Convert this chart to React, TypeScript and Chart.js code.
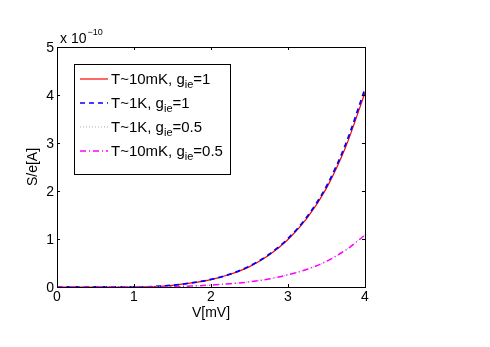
import { useEffect, useRef } from 'react';
import { Chart, registerables } from 'chart.js';
Chart.register(...registerables);

const V = [0, 0.25, 0.5, 0.75, 1, 1.25, 1.5, 1.75, 2, 2.25, 2.5, 2.75, 3, 3.25, 3.5, 3.75, 4];
const S_10mK_g1 = [0, 0, 0, 0, 0, 0.008, 0.035, 0.085, 0.155, 0.265, 0.425, 0.66, 0.99, 1.44, 2.06, 2.92, 4.05];
const S_1K_g1 = [0, 0, 0, 0, 0, 0.009, 0.037, 0.088, 0.158, 0.27, 0.435, 0.675, 1.01, 1.47, 2.1, 2.98, 4.13];
const S_1K_g05 = [0, 0, 0, 0, 0, 0.002, 0.008, 0.021, 0.041, 0.069, 0.108, 0.168, 0.257, 0.372, 0.538, 0.775, 1.09];
const S_10mK_g05 = [0, 0, 0, 0, 0, 0.002, 0.007, 0.02, 0.04, 0.068, 0.107, 0.167, 0.255, 0.37, 0.535, 0.77, 1.08];
const X_TICKS = [0, 1, 2, 3, 4];
const Y_TICKS = [0, 1, 2, 3, 4, 5];
const X_TITLE = 'V[mV]';
const Y_TITLE = 'S/e[A]';
const LEGEND = [
  { pre: 'T~10mK, g', sub: 'ie', post: '=1', color: '#ff0000', dash: [] as number[], width: 1.2 },
  { pre: 'T~1K, g', sub: 'ie', post: '=1', color: '#0000ff', dash: [5, 4], width: 1.6 },
  { pre: 'T~1K, g', sub: 'ie', post: '=0.5', color: '#b0b0b0', dash: [1, 2], width: 1 },
  { pre: 'T~10mK, g', sub: 'ie', post: '=0.5', color: '#ff00ff', dash: [6, 3, 1, 3], width: 1.5 },
];
const SERIES = [S_10mK_g1, S_1K_g1, S_1K_g05, S_10mK_g05];

const FONT = '"Liberation Sans", Arial, Helvetica, sans-serif';

const overlay = {
  id: 'matlabOverlay',
  afterDraw(chart: any) {
    const ctx = chart.ctx as CanvasRenderingContext2D;
    const a = chart.chartArea;
    const xs = chart.scales.x;
    const ys = chart.scales.y;
    ctx.save();
    // box
    ctx.strokeStyle = '#000';
    ctx.lineWidth = 1;
    ctx.setLineDash([]);
    ctx.strokeRect(Math.round(a.left) + 0.5, Math.round(a.top) + 0.5, Math.round(a.right - a.left), Math.round(a.bottom - a.top));
    // inward ticks
    ctx.beginPath();
    for (const t of X_TICKS) {
      const x = Math.round(xs.getPixelForValue(t)) + 0.5;
      ctx.moveTo(x, a.bottom);
      ctx.lineTo(x, a.bottom - 3);
      ctx.moveTo(x, a.top);
      ctx.lineTo(x, a.top + 3);
    }
    for (const t of Y_TICKS) {
      const y = Math.round(ys.getPixelForValue(t)) + 0.5;
      ctx.moveTo(a.left, y);
      ctx.lineTo(a.left + 3, y);
      ctx.moveTo(a.right, y);
      ctx.lineTo(a.right - 3, y);
    }
    ctx.stroke();

    ctx.fillStyle = '#000';
    ctx.font = `14px ${FONT}`;
    // tick labels
    ctx.textAlign = 'center';
    ctx.textBaseline = 'middle';
    for (const t of X_TICKS) {
      ctx.fillText(String(t), xs.getPixelForValue(t), a.bottom + 10);
    }
    ctx.textAlign = 'right';
    for (const t of Y_TICKS) {
      ctx.fillText(String(t), a.left - 3, ys.getPixelForValue(t) + 1);
    }
    // x title
    ctx.textAlign = 'center';
    ctx.fillText(X_TITLE, (a.left + a.right) / 2, 313);
    // y title
    ctx.save();
    ctx.translate(33, 167);
    ctx.rotate(-Math.PI / 2);
    ctx.fillText(Y_TITLE, 0, 0);
    ctx.restore();
    // exponent
    ctx.textAlign = 'left';
    ctx.textBaseline = 'alphabetic';
    ctx.font = `14px ${FONT}`;
    ctx.fillText('x 10', 60, 43);
    const w10 = ctx.measureText('x 10').width;
    ctx.font = `9px ${FONT}`;
    ctx.fillText('\u221210', 60 + w10 + 1, 35);

    // legend
    const lx = 74.5, ly = 64.5, lw = 156, lh = 110;
    ctx.fillStyle = '#fff';
    ctx.fillRect(lx, ly, lw, lh);
    ctx.strokeStyle = '#000';
    ctx.lineWidth = 1;
    ctx.strokeRect(lx, ly, lw, lh);
    const rows = [79, 103, 127, 151];
    LEGEND.forEach((item, i) => {
      const y = rows[i];
      ctx.strokeStyle = item.color;
      ctx.lineWidth = item.width;
      ctx.setLineDash(item.dash);
      ctx.beginPath();
      ctx.moveTo(80, y);
      ctx.lineTo(108, y);
      ctx.stroke();
      ctx.setLineDash([]);
      ctx.fillStyle = '#000';
      ctx.textBaseline = 'alphabetic';
      ctx.font = `15px ${FONT}`;
      let x = 111;
      const base = y + 5;
      ctx.fillText(item.pre, x, base);
      x += ctx.measureText(item.pre).width;
      ctx.font = `11px ${FONT}`;
      ctx.fillText(item.sub, x, base + 4);
      x += ctx.measureText(item.sub).width;
      ctx.font = `15px ${FONT}`;
      ctx.fillText(item.post, x, base);
    });
    ctx.restore();
  },
};

export default function App() {
  const ref = useRef<HTMLCanvasElement>(null);
  useEffect(() => {
    document.body.style.margin = '0';
    const styles = [
      { color: '#ff0000', dash: [] as number[], width: 1.2, order: 4 },
      { color: '#0000ff', dash: [5, 4], width: 1.8, order: 3 },
      { color: '#b0b0b0', dash: [1, 2], width: 1, order: 2 },
      { color: '#ff00ff', dash: [6, 3, 1, 3], width: 1.5, order: 1 },
    ];
    const chart = new Chart(ref.current!, {
      type: 'line',
      data: {
        datasets: SERIES.map((s, i) => ({
          label: LEGEND[i].pre + LEGEND[i].sub + LEGEND[i].post,
          data: V.map((v, j) => ({ x: v, y: s[j] })),
          borderColor: styles[i].color,
          borderDash: styles[i].dash,
          borderWidth: styles[i].width,
          order: styles[i].order,
          pointRadius: 0,
          fill: false,
          cubicInterpolationMode: 'monotone' as const,
        })),
      },
      options: {
        responsive: false,
        devicePixelRatio: 1,
        animation: false,
        layout: { padding: { top: 47, right: 125, left: 0, bottom: 0 } },
        plugins: { legend: { display: false }, tooltip: { enabled: false } },
        scales: {
          x: {
            type: 'linear',
            min: 0,
            max: 4,
            grid: { display: false },
            border: { display: false },
            ticks: { display: false, stepSize: 1 },
            afterFit: (s: any) => { s.height = 60; },
          },
          y: {
            type: 'linear',
            min: 0,
            max: 5,
            grid: { display: false },
            border: { display: false },
            ticks: { display: false, stepSize: 1 },
            afterFit: (s: any) => { s.width = 57; },
          },
        },
      },
      plugins: [overlay],
    });
    return () => chart.destroy();
  }, []);
  return (
    <div style={{ position: 'absolute', left: 0, top: 0, width: 490, height: 347, background: '#fff' }}>
      <canvas ref={ref} width={490} height={347} style={{ width: 490, height: 347 }} />
    </div>
  );
}
